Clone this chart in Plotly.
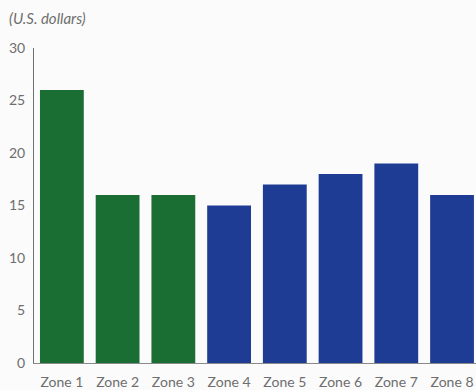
import plotly.graph_objects as go

zones = ["Zone 1", "Zone 2", "Zone 3", "Zone 4", "Zone 5", "Zone 6", "Zone 7", "Zone 8"]
values = [26, 16, 16, 15, 17, 18, 19, 16]
bar_colors = ["#1a6d33", "#1a6d33", "#1a6d33",
              "#1e3c93", "#1e3c93", "#1e3c93", "#1e3c93", "#1e3c93"]

fig = go.Figure(go.Bar(x=zones, y=values, marker=dict(color=bar_colors, line=dict(width=0))))

font = dict(family="Lato, Open Sans, sans-serif", size=14, color="#6e6e6e")

fig.update_layout(
    width=476, height=390,
    margin=dict(l=34, r=0, t=48, b=27),
    paper_bgcolor="#fbfbfb", plot_bgcolor="#fbfbfb",
    bargap=0.214,
    showlegend=False,
    font=font,
    annotations=[dict(text="<i>(U.S. dollars)</i>", xref="paper", yref="paper",
                      x=-0.062, y=1.095, xanchor="left", yanchor="middle",
                      showarrow=False, font=dict(size=15, color="#6e6e6e"))],
)
fig.update_xaxes(range=[-0.5, 7.43], showline=True, linecolor="#8a8a8a", linewidth=1,
                 ticks="", showgrid=False, tickfont=font, ticklabelstandoff=6)
fig.update_yaxes(range=[0, 30], tickvals=[0, 5, 10, 15, 20, 25, 30], showline=True,
                 linecolor="#707070", linewidth=1, ticks="", showgrid=False,
                 zeroline=False, tickfont=font, ticklabelstandoff=5)

fig.write_html("out.html")
